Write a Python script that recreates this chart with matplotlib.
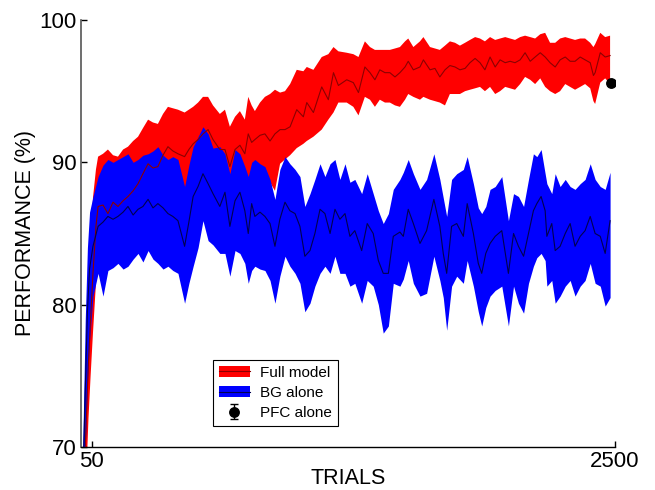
import matplotlib
matplotlib.use("Agg")
import matplotlib.pyplot as plt
from matplotlib.patches import Patch
from matplotlib.lines import Line2D
import numpy as np

plt.rcParams['font.family'] = ['Liberation Sans', 'DejaVu Sans']

# ---------------- data ----------------
blue_t = [8, 20, 30, 40, 56, 80, 103, 126, 150, 173, 197, 220, 244, 267, 290, 314, 337, 360, 384, 407,
          430, 454, 485, 505, 525, 548, 571, 595, 618, 650, 674, 697, 721, 744, 767, 783, 799, 814, 838,
          861, 885, 908, 931, 955, 978, 1002, 1025, 1048, 1072, 1095, 1119, 1142, 1166, 1189, 1212, 1236,
          1259, 1282, 1314, 1340, 1368, 1392, 1415, 1439, 1462, 1493, 1509, 1532, 1556, 1587, 1618, 1652,
          1680, 1696, 1712, 1735, 1759, 1790, 1808, 1837, 1860, 1876, 1895, 1915, 1939, 1970, 2001, 2025,
          2048, 2072, 2095, 2118, 2134, 2154, 2173, 2181, 2204, 2220, 2243, 2267, 2290, 2313, 2337, 2360,
          2384, 2407, 2431, 2454, 2477]
blue_lo = [64, 70, 74.5, 77.5, 80.6, 82.2, 80.6, 82.4, 82.6, 82.9, 82.5, 82.7, 83.2, 83.6, 83.0, 83.8, 83.2,
           82.9, 82.5, 82.7, 82.4, 82.2, 80.1, 81.5, 82.7, 84.0, 85.9, 84.5, 84.2, 83.6, 83.6, 82.0, 83.8,
           83.6, 82.9, 81.5, 82.4, 82.7, 82.5, 82.4, 81.7, 80.1, 82.0, 83.4, 82.7, 82.2, 81.5, 79.5, 80.1,
           81.3, 82.2, 82.7, 82.2, 83.4, 82.2, 82.2, 81.3, 81.5, 80.1, 81.7, 81.3, 80.0, 78.0, 78.5, 81.5,
           81.3, 81.8, 83.1, 81.5, 80.6, 80.8, 83.4, 81.7, 80.5, 78.2, 81.3, 82.0, 81.5, 83.1, 81.3, 79.5,
           78.5, 79.8, 80.6, 81.0, 81.3, 78.5, 81.3, 80.1, 79.4, 81.5, 82.7, 83.3, 83.6, 83.1, 81.3, 81.7,
           80.1, 80.6, 81.3, 81.7, 80.6, 81.3, 81.7, 82.9, 81.5, 81.3, 79.9, 80.5]
blue_mu = [67, 74, 79.5, 82.5, 84.1, 85.5, 85.8, 86.2, 86.0, 86.2, 86.5, 86.9, 86.3, 86.7, 86.9, 87.4, 86.8,
           87.1, 86.8, 86.4, 86.2, 85.9, 84.1, 85.8, 87.6, 88.3, 89.2, 88.5, 87.8, 86.9, 87.9, 85.5, 87.3,
           87.9, 86.6, 85.0, 87.1, 86.2, 86.5, 86.2, 85.7, 84.1, 86.0, 87.2, 86.6, 86.4, 85.5, 83.4, 83.8,
           85.0, 86.7, 86.4, 85.0, 86.7, 86.0, 86.4, 84.8, 85.2, 83.8, 85.7, 85.0, 83.1, 82.2, 82.2, 84.8,
           85.1, 84.8, 86.7, 85.7, 84.3, 85.2, 87.4, 85.5, 83.6, 82.2, 85.5, 85.7, 84.8, 87.1, 85.0, 82.9,
           82.2, 83.6, 84.3, 84.8, 85.2, 82.2, 85.0, 84.1, 83.4, 85.0, 86.6, 87.1, 87.6, 86.6, 84.8, 85.7,
           83.8, 84.1, 85.0, 85.7, 84.1, 84.8, 85.2, 86.2, 85.0, 84.8, 83.6, 85.9]
blue_hi = [70, 79, 84, 86.5, 87.6, 89.0, 89.8, 90.2, 90.0, 90.2, 90.4, 90.6, 90.0, 90.2, 90.5, 90.6, 90.8,
           91.1, 90.5, 90.2, 90.4, 90.2, 88.3, 89.8, 91.1, 91.8, 92.5, 92.0, 91.0, 91.1, 90.6, 89.2, 90.9,
           90.6, 89.7, 89.0, 90.0, 90.2, 89.9, 89.7, 88.8, 87.4, 89.5, 90.4, 89.9, 89.5, 89.0, 86.9, 87.8,
           88.8, 89.9, 89.0, 89.9, 90.2, 88.8, 89.9, 88.6, 88.8, 87.8, 89.2, 87.8, 86.6, 85.7, 86.4, 88.1,
           88.8, 89.3, 90.2, 89.2, 88.1, 88.8, 90.6, 88.8, 87.5, 86.2, 88.8, 89.2, 89.5, 90.4, 88.5, 86.8,
           86.4, 86.9, 88.1, 88.3, 89.0, 85.9, 87.8, 87.6, 86.9, 88.8, 90.6, 90.4, 90.9, 89.2, 88.5, 87.8,
           89.2, 88.3, 88.8, 88.3, 88.1, 88.5, 88.8, 89.9, 88.8, 88.3, 88.1, 89.3]

red_t = [12, 25, 35, 45, 56, 70, 80, 103, 126, 150, 173, 197, 220, 244, 267, 290, 314, 337, 360, 384, 407,
         430, 454, 485, 505, 525, 548, 571, 595, 618, 650, 674, 697, 721, 744, 767, 783, 799, 814, 838, 861,
         885, 908, 932, 955, 979, 1010, 1041, 1057, 1088, 1127, 1158, 1182, 1205, 1244, 1275, 1299, 1329,
         1353, 1376, 1399, 1423, 1446, 1470, 1493, 1517, 1532, 1556, 1587, 1603, 1634, 1657, 1680, 1704,
         1727, 1751, 1774, 1798, 1821, 1845, 1868, 1891, 1915, 1939, 1962, 1986, 2009, 2032, 2056, 2079,
         2103, 2126, 2150, 2173, 2196, 2220, 2243, 2267, 2290, 2313, 2337, 2360, 2384, 2399, 2407, 2431,
         2454, 2477]
red_lo = [63, 68, 72, 75, 78, 81.5, 83.0, 83.0, 82.5, 82.8, 83.2, 83.5, 83.6, 84.2, 84.6, 85.5, 86.0, 86.0,
          86.2, 87.0, 87.5, 87.4, 87.2, 87.8, 87.9, 88.0, 88.4, 88.8, 88.8, 88.3, 87.8, 87.8, 86.5, 88.0,
          88.0, 87.5, 88.6, 88.2, 88.0, 88.6, 89.0, 88.6, 88.0, 89.9, 90.2, 90.5, 91.0, 91.3, 91.5, 91.8,
          92.3, 93.0, 93.5, 94.2, 94.2, 93.9, 93.3, 94.6, 94.4, 93.9, 94.4, 94.2, 94.2, 94.0, 93.9, 94.4,
          94.8, 94.6, 94.4, 94.6, 94.4, 94.3, 94.2, 94.0, 94.8, 94.8, 94.8, 95.0, 95.1, 95.2, 95.3, 95.0,
          95.3, 94.8, 95.0, 95.3, 95.2, 95.1, 95.5, 96.0, 95.8, 95.5, 95.9, 95.3, 95.0, 94.8, 95.0, 95.5,
          95.3, 95.1, 95.3, 95.5, 95.2, 94.3, 94.1, 95.6, 95.9, 95.5]
red_mu = [67, 72, 76, 79, 82.2, 85.5, 86.9, 87.0, 86.4, 87.2, 86.9, 87.3, 87.6, 88.0, 88.5, 89.2, 89.9, 89.6,
          89.7, 90.5, 91.1, 90.8, 90.6, 90.4, 90.9, 91.3, 91.6, 92.0, 92.3, 91.6, 90.9, 90.9, 89.7, 90.9,
          91.2, 90.6, 92.0, 91.4, 91.6, 91.9, 92.0, 91.5, 92.0, 92.3, 92.3, 92.5, 93.7, 93.2, 94.2, 93.5,
          95.3, 94.4, 96.3, 95.4, 95.8, 95.6, 94.9, 96.7, 96.3, 95.8, 96.5, 96.3, 96.3, 96.0, 96.3, 96.7,
          97.1, 96.5, 96.7, 97.2, 96.5, 96.6, 96.0, 96.5, 96.8, 96.7, 96.5, 96.6, 97.0, 97.3, 97.0, 96.5,
          97.4, 96.7, 97.2, 97.0, 97.1, 97.0, 97.2, 97.7, 97.1, 97.4, 97.7, 97.4, 97.0, 96.7, 97.2, 97.4,
          97.1, 97.1, 97.4, 97.2, 97.0, 96.1, 96.3, 97.7, 97.4, 97.5]
red_hi = [70, 76, 80, 83.5, 87.5, 89.5, 90.4, 90.6, 90.9, 90.5, 90.4, 90.9, 91.1, 91.5, 91.8, 92.4, 93.0,
          92.8, 92.7, 93.4, 93.9, 93.8, 93.7, 93.5, 93.7, 93.9, 94.2, 94.6, 94.6, 94.0, 93.4, 93.7, 92.5,
          93.2, 93.6, 93.0, 94.6, 94.0, 93.6, 94.2, 94.6, 94.8, 95.1, 94.9, 95.0, 95.5, 96.5, 96.4, 96.7,
          96.5, 97.4, 97.6, 98.1, 97.8, 97.7, 97.6, 97.4, 98.5, 98.1, 97.9, 97.9, 97.9, 97.9, 98.0, 98.1,
          98.5, 98.7, 98.1, 98.5, 98.8, 98.1, 98.0, 97.9, 98.2, 98.5, 98.4, 98.2, 98.4, 98.6, 98.8, 98.7,
          98.5, 98.8, 98.6, 98.7, 98.8, 98.7, 98.6, 98.8, 98.9, 98.8, 98.7, 99.0, 99.1, 98.4, 98.4, 98.7,
          98.8, 98.7, 98.6, 98.7, 98.7, 98.4, 98.1, 98.3, 99.1, 98.8, 98.9]

pfc_t = [2480]
pfc_mu = [95.6]
pfc_err = [0.15]

x_ticks = [50, 2500]
y_ticks = [70, 80, 90, 100]

# ---------------- plot ----------------
fig = plt.figure(figsize=(6.55, 4.9), dpi=100)
ax = fig.add_axes([81 / 655, 43 / 490, 534 / 655, 427 / 490])

ax.fill_between(red_t, red_lo, red_hi, color='#ff0000', lw=0, zorder=1)
ax.fill_between(blue_t, blue_lo, blue_hi, color='#0000ff', lw=0, zorder=2)
ax.plot(red_t, red_mu, color='#8b0000', lw=0.8, zorder=3)
ax.plot(blue_t, blue_mu, color='#000050', lw=0.8, zorder=4)
eb = ax.errorbar(pfc_t, pfc_mu, yerr=pfc_err, fmt='o', color='black', ms=6.8,
                 capsize=3, elinewidth=1, zorder=5)

ax.set_xlim(0, 2500)
ax.set_ylim(70, 100)
ax.set_xticks(x_ticks)
ax.set_yticks(y_ticks)
ax.tick_params(direction='in', length=4, labelsize=16, width=1)
ax.tick_params(axis='y', pad=3)
ax.tick_params(axis='x', pad=3)
for s in ['top', 'right']:
    ax.spines[s].set_visible(False)
ax.spines['left'].set_color('#555555')
ax.spines['left'].set_linewidth(1.2)
ax.spines['bottom'].set_linewidth(1.0)

ax.set_xlabel('TRIALS', fontsize=15.5)
ax.set_ylabel('PERFORMANCE (%)', fontsize=15.5)
ax.xaxis.label.set_verticalalignment('center')
ax.yaxis.label.set_verticalalignment('center')
ax.xaxis.set_label_coords(0.5, (447 - 478) / 427)
ax.yaxis.set_label_coords((25 - 81) / 534, 0.5)

h_full = (Patch(facecolor='#ff0000', edgecolor='none'), Line2D([], [], color='#8b0000', lw=0.8))
h_bg = (Patch(facecolor='#0000ff', edgecolor='none'), Line2D([], [], color='#000050', lw=0.8))
leg = ax.legend([h_full, h_bg, eb], ['Full model', 'BG alone', 'PFC alone'],
                loc='lower left', bbox_to_anchor=(0.247, 0.049), fontsize=11,
                frameon=True, fancybox=False, edgecolor='black', framealpha=1,
                handlelength=2.0, handletextpad=0.7, labelspacing=0.4,
                borderpad=0.4, borderaxespad=0)
leg.get_frame().set_linewidth(0.8)

fig.savefig('out.png', dpi=100)
